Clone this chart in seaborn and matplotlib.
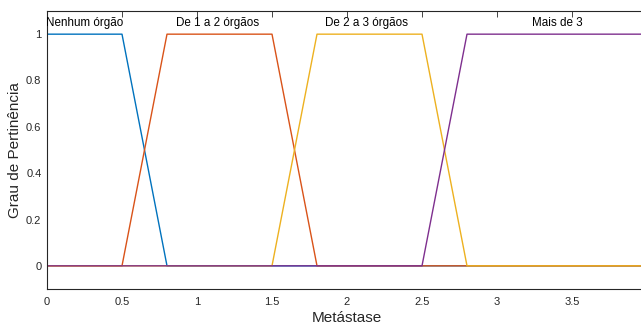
import matplotlib
matplotlib.use("Agg")
import matplotlib.pyplot as plt
import seaborn as sns
import pandas as pd

sns.set_theme(style="white")
plt.rcParams['font.family'] = ['Liberation Sans', 'DejaVu Sans']

names = ["Nenhum órgão", "De 1 a 2 órgãos", "De 2 a 3 órgãos", "Mais de 3"]
xs_nenhum = [0, 0.5, 0.8, 4]
ys_nenhum = [1, 1, 0, 0]
xs_de12 = [0, 0.5, 0.8, 1.5, 1.8, 4]
ys_de12 = [0, 0, 1, 1, 0, 0]
xs_de23 = [0, 1.5, 1.8, 2.5, 2.8, 4]
ys_de23 = [0, 0, 1, 1, 0, 0]
xs_mais = [0, 2.5, 2.8, 4]
ys_mais = [0, 0, 1, 1]
label_x = [0.25, 1.14, 2.13, 3.4]
label_y = 1.047
colors = ["#0072BD", "#D95319", "#EDB120", "#7E2F8E"]
xticks = [0, 0.5, 1, 1.5, 2, 2.5, 3, 3.5]
yticks = [0, 0.2, 0.4, 0.6, 0.8, 1]

series = [(xs_nenhum, ys_nenhum), (xs_de12, ys_de12), (xs_de23, ys_de23), (xs_mais, ys_mais)]

fig = plt.figure(figsize=(6.41, 3.29), dpi=100)
ax = fig.add_axes([47/641, 40/329, 600/641, 278/329])

for (xv, yv), c in zip(series, colors):
    df = pd.DataFrame({"x": xv, "y": yv})
    sns.lineplot(data=df, x="x", y="y", ax=ax, color=c, linewidth=1.0, sort=False, estimator=None)

for n, lx in zip(names, label_x):
    ax.text(lx, label_y, n, ha="center", va="center", fontsize=8.4, color="black")

ax.set_xlim(0, 4)
ax.set_ylim(-0.1, 1.1)
ax.set_xticks(xticks)
ax.set_xticklabels([f"{t:g}" for t in xticks])
ax.set_yticks(yticks)
ax.set_yticklabels([f"{t:g}" for t in yticks])
ax.tick_params(direction="in", length=4.5, width=0.6, top=True, right=True,
               labelsize=8, colors="#262626")
ax.tick_params(axis="x", pad=6)
ax.tick_params(axis="y", pad=4)
for s in ax.spines.values():
    s.set_visible(True)
    s.set_color("#262626")
    s.set_linewidth(0.8)
ax.set_xlabel("Metástase", fontsize=11, color="#262626", labelpad=3)
ax.set_ylabel("Grau de Pertinência", fontsize=11, color="#262626", labelpad=3)
ax.grid(False)

fig.savefig("out.png", dpi=100)
